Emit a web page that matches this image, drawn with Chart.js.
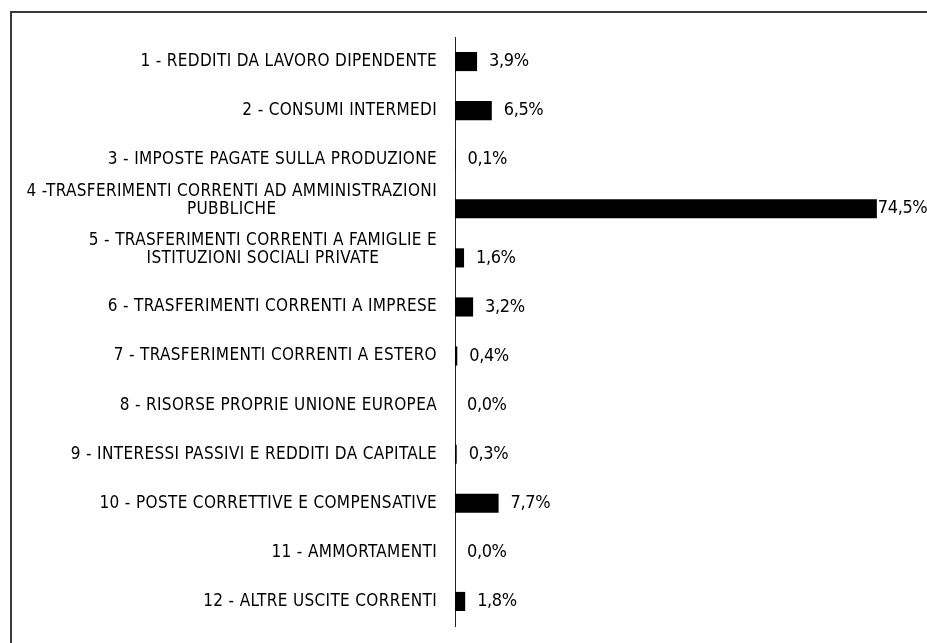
<!DOCTYPE html>
<html>
<head>
<meta charset="utf-8">
<script src="https://cdn.jsdelivr.net/npm/chart.js@4.4.0/dist/chart.umd.min.js"></script>
<style>
  html, body { margin: 0; padding: 0; background: #fff; overflow: hidden; }
  #wrap { position: relative; width: 927px; height: 643px; }
  #frame { position: absolute; left: 10px; top: 11px; width: 1000px; height: 1000px; border: 2px solid #3a3a3a; box-sizing: border-box; }
  canvas { position: absolute; left: 0; top: 0; }
</style>
</head>
<body>
<div id="wrap">
  <div id="frame"></div>
  <canvas id="c" width="927" height="643"></canvas>
</div>
<script>
const categories = [
  ["1 - REDDITI DA LAVORO DIPENDENTE"],
  ["2 - CONSUMI INTERMEDI"],
  ["3 - IMPOSTE PAGATE SULLA PRODUZIONE"],
  ["4 -TRASFERIMENTI CORRENTI AD AMMINISTRAZIONI", "PUBBLICHE"],
  ["5 - TRASFERIMENTI CORRENTI A FAMIGLIE E", "ISTITUZIONI SOCIALI PRIVATE"],
  ["6 - TRASFERIMENTI CORRENTI A IMPRESE"],
  ["7 - TRASFERIMENTI CORRENTI A ESTERO"],
  ["8 - RISORSE PROPRIE UNIONE EUROPEA"],
  ["9 - INTERESSI PASSIVI E REDDITI DA CAPITALE"],
  ["10 - POSTE CORRETTIVE E COMPENSATIVE"],
  ["11 - AMMORTAMENTI"],
  ["12 - ALTRE USCITE CORRENTI"]
];
const values = [3.9, 6.5, 0.1, 74.5, 1.6, 3.2, 0.4, 0.0, 0.3, 7.7, 0.0, 1.8];
const valueLabels = ["3,9%", "6,5%", "0,1%", "74,5%", "1,6%", "3,2%", "0,4%", "0,0%", "0,3%", "7,7%", "0,0%", "1,8%"];

const FONT = '"Liberation Sans Narrow", "Arial Narrow", "DejaVu Sans Condensed", sans-serif';

const labelPlugin = {
  id: 'customLabels',
  afterDatasetsDraw(chart) {
    const ctx = chart.ctx;
    const yScale = chart.scales.y;
    const area = chart.chartArea;
    const meta = chart.getDatasetMeta(0);
    ctx.save();
    ctx.fillStyle = '#000';
    // category labels
    ctx.font = '17px ' + FONT;
    if ('letterSpacing' in ctx) ctx.letterSpacing = '0.35px';
    ctx.textBaseline = 'middle';
    categories.forEach((lines, i) => {
      const cy = yScale.getPixelForValue(i);
      const right = area.left - 18;
      const widths = lines.map(l => ctx.measureText(l).width);
      const maxW = Math.max(...widths);
      const lh = 18;
      const startY = lines.length > 1 ? cy - (lines.length - 1) * lh + 1 : cy;
      lines.forEach((l, k) => {
        ctx.textAlign = 'center';
        ctx.fillText(l, right - maxW / 2, startY + k * lh);
      });
    });
    // value labels
    ctx.font = '18px ' + FONT;
    if ('letterSpacing' in ctx) ctx.letterSpacing = '-0.4px';
    ctx.textAlign = 'left';
    meta.data.forEach((bar, i) => {
      const txt = valueLabels[i];
      const w = ctx.measureText(txt).width;
      let x = bar.x + 12;
      if (x + w > chart.width - 1) x = Math.max(bar.x + 1, chart.width - 1 - w);
      ctx.fillText(txt, x, bar.y);
    });
    ctx.restore();
  }
};

new Chart(document.getElementById('c'), {
  type: 'bar',
  data: {
    labels: categories,
    datasets: [{
      data: values,
      backgroundColor: '#000',
      borderWidth: 0,
      barPercentage: 0.39,
      categoryPercentage: 1.0
    }]
  },
  options: {
    indexAxis: 'y',
    responsive: false,
    animation: false,
    layout: { padding: { left: 455, right: 19, top: 37, bottom: 17 } },
    plugins: { legend: { display: false }, tooltip: { enabled: false } },
    scales: {
      x: { display: false, min: 0, max: 80 },
      y: {
        display: true,
        ticks: { display: false },
        grid: { display: false },
        border: { display: true, color: '#222', width: 1 },
        afterFit(s) { s.width = 0; }
      }
    }
  },
  plugins: [labelPlugin]
});
</script>
</body>
</html>
